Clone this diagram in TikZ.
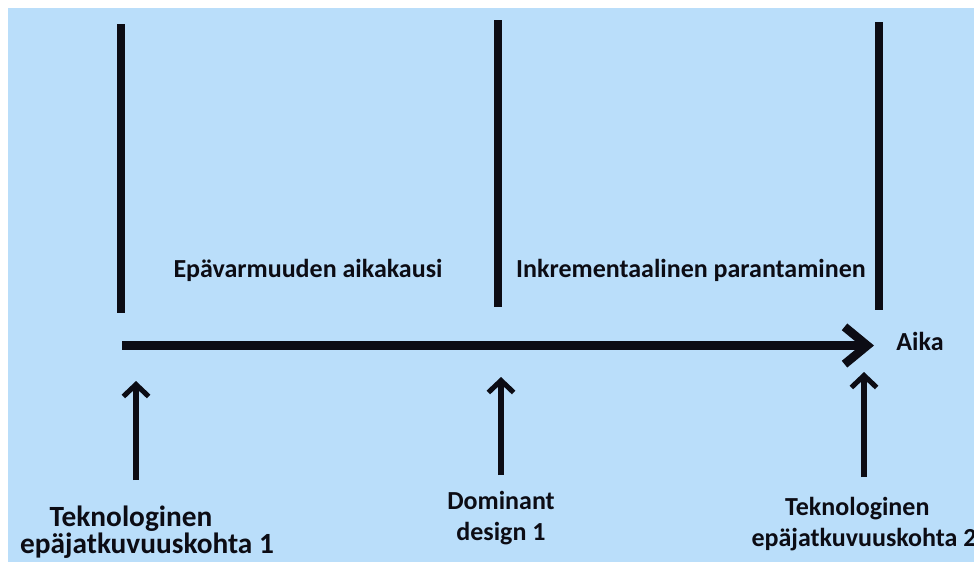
\documentclass[tikz,border=0pt]{standalone}
\usepackage{fontspec}
\setmainfont{Carlito}
\usetikzlibrary{arrows.meta}
\definecolor{bgblue}{RGB}{186,222,250}
\definecolor{ink}{RGB}{12,12,20}
\tikzset{
  divider/.style={line width=5.5pt, draw=ink},
  timeline/.style={line width=6.5pt, draw=ink, -{Straight Barb[length=17pt,width=28pt]}},
  pointer/.style={line width=3.8pt, draw=ink, -{Straight Barb[length=9pt,width=19pt]}},
  lbl/.style={font=\bfseries\fontsize{19.5pt}{23pt}\selectfont, text=ink, inner sep=0pt, align=center},
  biglbl/.style={lbl, font=\bfseries\fontsize{22pt}{20.5pt}\selectfont}
}
\begin{document}
\begin{tikzpicture}[x=0.75pt,y=-0.75pt]
\useasboundingbox (0,0) rectangle (974,562);
\fill[white] (0,0) rectangle (974,562);
\fill[bgblue] (8,8) rectangle (974,562);
% vertical dividers
\coordinate (d1t) at (121,24);  \coordinate (d1b) at (121,313);
\coordinate (d2t) at (498,20);  \coordinate (d2b) at (498,307);
\coordinate (d3t) at (879,22);  \coordinate (d3b) at (879,310);
\draw[divider] (d1t) -- (d1b);
\draw[divider] (d2t) -- (d2b);
\draw[divider] (d3t) -- (d3b);
% timeline
\coordinate (ts) at (122,345.5);
\coordinate (te) at (874,345.5);
\draw[timeline] (ts) -- (te);
% period labels
\node[lbl] (era1) at (308,270) {Epävarmuuden aikakausi};
\node[lbl] (era2) at (691,270) {Inkrementaalinen parantaminen};
\node[lbl] (aika) at (920,341) {Aika};
% bottom labels
\node[biglbl] (k1) at (147,532) {Teknologinen\hspace*{24pt}\\epäjatkuvuuskohta 1};
\node[lbl] (dd) at (501,518) {Dominant\\design 1};
\node[lbl] (k2) at (864,524) {Teknologinen\hspace*{10pt}\\epäjatkuvuuskohta 2};
% pointer arrows
\coordinate (p1b) at (136,480); \coordinate (p1t) at (136,381);
\coordinate (p2b) at (501,475); \coordinate (p2t) at (501,377);
\coordinate (p3b) at (864,477); \coordinate (p3t) at (864,372);
\draw[pointer] (p1b) -- (p1t);
\draw[pointer] (p2b) -- (p2t);
\draw[pointer] (p3b) -- (p3t);
\end{tikzpicture}
\end{document}
